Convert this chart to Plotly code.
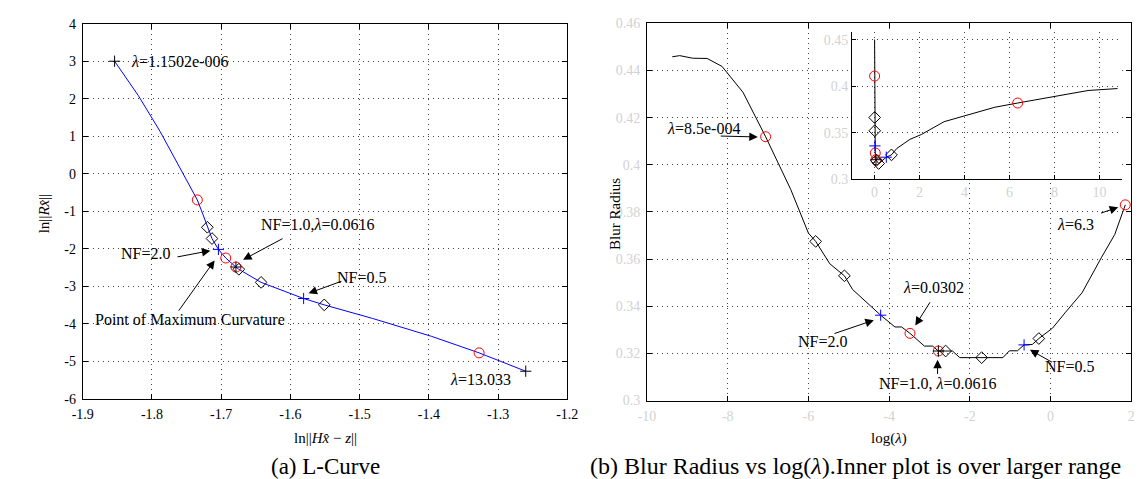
import plotly.graph_objects as go

W, H = 1147, 479

# ---------------- Data: L-curve (left) ----------------
lc_x = [-1.854, -1.8196, -1.7884, -1.7601, -1.7345, -1.7265, -1.7200, -1.7133, -1.7040, -1.6934,
        -1.6787, -1.6745, -1.6423, -1.5809, -1.5511, -1.4816, -1.3960, -1.3274, -1.2600]
lc_y = [3.00, 2.08, 1.13, 0.18, -0.70, -1.08, -1.43, -1.73, -2.02, -2.25,
        -2.49, -2.55, -2.90, -3.33, -3.50, -3.86, -4.34, -4.78, -5.27]
lc_circ_x = [-1.7345, -1.6934, -1.6787, -1.3274]
lc_circ_y = [-0.70, -2.25, -2.49, -4.78]
lc_diam_x = [-1.7200, -1.7133, -1.6745, -1.6423, -1.5511]
lc_diam_y = [-1.43, -1.73, -2.55, -2.90, -3.50]
lc_bplus_x = [-1.7040, -1.5809]
lc_bplus_y = [-2.02, -3.33]
lc_kplus_x = [-1.854, -1.6787, -1.2600]
lc_kplus_y = [3.00, -2.49, -5.27]

# ---------------- Data: Blur radius vs log(lambda) (right) ----------------
br_x = [-9.375, -9.19, -8.87, -8.51, -8.14, -7.62, -7.061, -6.44, -6.0, -5.82, -5.47, -5.108,
        -4.906, -4.21, -3.855, -3.69, -3.483, -3.126, -2.92, -2.78, -2.6, -2.43, -2.25, -1.707,
        -1.18, -1.02, -0.82, -0.656, -0.45, -0.29, 0.049, 0.373, 0.78, 1.265, 1.59, 1.853]
br_y = [0.4458, 0.4463, 0.4452, 0.4451, 0.4417, 0.4307, 0.4119, 0.3896, 0.3710, 0.3675, 0.3580, 0.3529,
        0.3471, 0.3362, 0.3312, 0.3312, 0.3285, 0.3231, 0.3231, 0.3210, 0.3210, 0.3210, 0.3182, 0.3182,
        0.3182, 0.3211, 0.3211, 0.3236, 0.3238, 0.3263, 0.3307, 0.3375, 0.3457, 0.3608, 0.3704, 0.3830]
br_circ_x = [-7.061, -3.483, -2.78, 1.853]
br_circ_y = [0.4119, 0.3285, 0.3210, 0.3830]
br_diam_x = [-5.82, -5.108, -2.6, -1.707, -0.29]
br_diam_y = [0.3675, 0.3529, 0.3210, 0.3182, 0.3263]
br_bplus_x = [-4.21, -0.656]
br_bplus_y = [0.3362, 0.3236]
br_kplus_x = [-2.78]
br_kplus_y = [0.3210]

# ---------------- Data: inset (lambda, linear) ----------------
in_x = [0.0, 0.00085, 0.003, 0.0302, 0.0616, 0.074, 0.18, 0.52, 0.75, 0.99, 1.57, 2.08,
        3.09, 4.40, 5.35, 6.36, 7.89, 9.49, 10.8]
in_y = [0.4503, 0.411, 0.3663, 0.328, 0.3208, 0.320, 0.3167, 0.3235, 0.326, 0.333, 0.3427, 0.348,
        0.3618, 0.3704, 0.3774, 0.3819, 0.3889, 0.3954, 0.3975]
in_circ_x = [0.00085, 0.0302, 0.0616, 6.36]
in_circ_y = [0.411, 0.328, 0.3208, 0.3819]
in_diam_x = [0.003, 0.006, 0.074, 0.18, 0.75]
in_diam_y = [0.3663, 0.352, 0.320, 0.3167, 0.326]
in_bplus_x = [0.015, 0.52]
in_bplus_y = [0.3357, 0.3235]
in_kplus_x = [0.0616]
in_kplus_y = [0.3208]

lc_xticks = [-1.9, -1.8, -1.7, -1.6, -1.5, -1.4, -1.3, -1.2]
lc_yticks = [-6, -5, -4, -3, -2, -1, 0, 1, 2, 3, 4]
br_xticks = [-10, -8, -6, -4, -2, 0, 2]
br_yticks = [0.30, 0.32, 0.34, 0.36, 0.38, 0.40, 0.42, 0.44, 0.46]
br_yticklabels = ["0.3", "0.32", "0.34", "0.36", "0.38", "0.4", "0.42", "0.44", "0.46"]
in_xticks = [0, 2, 4, 6, 8, 10]
in_yticks = [0.30, 0.35, 0.40, 0.45]
in_yticklabels = ["0.3", "0.35", "0.4", "0.45"]

FONT = "Liberation Serif, DejaVu Serif, serif"
GRAY = "#d2d2d2"

fig = go.Figure()

def markers(x, y, xa, ya, symbol, color, size, lw=1):
    fig.add_trace(go.Scatter(x=x, y=y, xaxis=xa, yaxis=ya, mode="markers",
                             marker=dict(symbol=symbol, size=size, color=color,
                                         line=dict(color=color, width=lw)),
                             showlegend=False, hoverinfo="skip"))

# left
fig.add_trace(go.Scatter(x=lc_x, y=lc_y, xaxis="x", yaxis="y", mode="lines",
                         line=dict(color="#0000ff", width=1), showlegend=False))
markers(lc_circ_x, lc_circ_y, "x", "y", "circle-open", "#ff0000", 10)
markers(lc_diam_x, lc_diam_y, "x", "y", "diamond-open", "black", 9)
markers(lc_bplus_x, lc_bplus_y, "x", "y", "cross-thin-open", "#0000ff", 8)
markers(lc_kplus_x, lc_kplus_y, "x", "y", "cross-thin-open", "black", 8)

# right
fig.add_trace(go.Scatter(x=br_x, y=br_y, xaxis="x2", yaxis="y2", mode="lines",
                         line=dict(color="black", width=1), showlegend=False))
markers(br_circ_x, br_circ_y, "x2", "y2", "circle-open", "#ff0000", 10)
markers(br_diam_x, br_diam_y, "x2", "y2", "diamond-open", "black", 9)
markers(br_bplus_x, br_bplus_y, "x2", "y2", "cross-thin-open", "#0000ff", 8)
markers(br_kplus_x, br_kplus_y, "x2", "y2", "cross-thin-open", "black", 8)

# inset
fig.add_trace(go.Scatter(x=in_x, y=in_y, xaxis="x3", yaxis="y3", mode="lines",
                         line=dict(color="black", width=1), showlegend=False))
markers(in_circ_x, in_circ_y, "x3", "y3", "circle-open", "#ff0000", 10)
markers(in_diam_x, in_diam_y, "x3", "y3", "diamond-open", "black", 9)
markers(in_bplus_x, in_bplus_y, "x3", "y3", "cross-thin-open", "#0000ff", 8)
markers(in_kplus_x, in_kplus_y, "x3", "y3", "cross-thin-open", "black", 8)

grid = dict(showgrid=True, gridcolor="#444444", gridwidth=1, griddash="1px,4px", zeroline=False)
frame = dict(showline=True, linecolor="black", linewidth=1, mirror="ticks",
             ticks="inside", ticklen=5, tickcolor="black")
TF = 14

fig.update_layout(
    width=W, height=H, margin=dict(l=0, r=0, t=0, b=0),
    paper_bgcolor="white", plot_bgcolor="white", showlegend=False,
    font=dict(family=FONT, size=12, color="black"),
    xaxis=dict(domain=[65/W, 559/W], range=[-1.9, -1.2], tickvals=lc_xticks,
               ticktext=["%g" % v for v in lc_xticks], anchor="y", ticklabelstandoff=3,
               tickfont=dict(family=FONT, size=TF), **grid, **frame),
    yaxis=dict(domain=[1-396/H, 1-9/H], range=[-6, 4], tickvals=lc_yticks,
               ticktext=["%g" % v for v in lc_yticks], anchor="x", ticklabelstandoff=3,
               tickfont=dict(family=FONT, size=TF), **grid, **frame),
    xaxis2=dict(domain=[640.3/W, 1134/W], range=[-10, 2], tickvals=br_xticks,
                ticktext=["%g" % v for v in br_xticks], anchor="y2", ticklabelstandoff=3,
                tickfont=dict(family=FONT, size=TF, color=GRAY), **grid, **frame),
    yaxis2=dict(domain=[1-398/H, 1-8.6/H], range=[0.30, 0.46], tickvals=br_yticks,
                ticktext=br_yticklabels, anchor="x2", ticklabelstandoff=3,
                tickfont=dict(family=FONT, size=TF, color=GRAY), **grid, **frame),
    xaxis3=dict(domain=[849.4/W, 1124.6/W], range=[-1, 11], tickvals=in_xticks,
                ticktext=["%g" % v for v in in_xticks], anchor="y3",
                tickfont=dict(family=FONT, size=TF, color=GRAY), showline=True, linecolor="black",
                linewidth=1, mirror=False, ticks="inside", ticklen=4, tickcolor="black", **grid),
    yaxis3=dict(domain=[1-169.3/H, 1-18/H], range=[0.30, 0.458], tickvals=in_yticks,
                ticktext=in_yticklabels, anchor="x3",
                tickfont=dict(family=FONT, size=TF, color=GRAY), showline=True, linecolor="black",
                linewidth=1, mirror=False, ticks="inside", ticklen=4, tickcolor="black", **grid),
)

ann = []
def text(x, y, s, xr, yr, size=16, xanchor="center"):
    ann.append(dict(x=x, y=y, xref=xr, yref=yr, text=s, showarrow=False,
                    font=dict(family=FONT, size=size, color="black"),
                    xanchor=xanchor, yanchor="middle"))

def arrow(hx, hy, tx, ty, xr, yr):
    ann.append(dict(x=hx, y=hy, ax=tx, ay=ty, xref=xr, yref=yr, axref=xr, ayref=yr,
                    text="", showarrow=True, arrowhead=2, arrowsize=1.7, arrowwidth=1,
                    arrowcolor="black", standoff=0, startstandoff=0))

L = "<i>λ</i>"
# left annotations
text(-1.8333, 3.0, L + "=1.1502e-006", "x", "y", xanchor="left")
text(-1.809, -2.142, "NF=2.0", "x", "y")
arrow(-1.7156, -2.054, -1.7652, -2.227, "x", "y")
text(-1.7454, -3.881, "Point of Maximum Curvature", "x", "y")
arrow(-1.7095, -2.313, -1.7628, -3.693, "x", "y")
text(-1.5613, -1.367, "NF=1.0," + L + "=0.0616", "x", "y")
arrow(-1.6684, -2.297, -1.6092, -1.711, "x", "y")
text(-1.4976, -2.762, "NF=0.5", "x", "y")
arrow(-1.5738, -3.191, -1.5241, -2.855, "x", "y")
text(-1.326, -5.48, L + "=13.033", "x", "y")

# right annotations
text(-8.591, 0.4154, L + "=8.5e-004", "x2", "y2")
arrow(-7.255, 0.4118, -8.21, 0.4122, "x2", "y2")
text(-5.655, 0.3252, "NF=2.0", "x2", "y2")
arrow(-4.379, 0.3341, -5.391, 0.3282, "x2", "y2")
text(-2.89, 0.3481, L + "=0.0302", "x2", "y2")
arrow(-3.352, 0.3318, -2.964, 0.3423, "x2", "y2")
text(-2.79, 0.3074, "NF=1.0, " + L + "=0.0616", "x2", "y2")
arrow(-2.8, 0.3173, -2.8, 0.3106, "x2", "y2")
text(0.478, 0.3143, "NF=0.5", "x2", "y2")
arrow(-0.51, 0.3215, 0.074, 0.3159, "x2", "y2")
text(0.619, 0.3745, L + "=6.3", "x2", "y2")
arrow(1.676, 0.382, 1.214, 0.3793, "x2", "y2")

# axis titles and captions
text(312/W, 1-437/H, "ln||<i>Hx̂</i> − <i>z</i>||", "paper", "paper", size=15)
text(887/W, 1-437/H, "log(" + L + ")", "paper", "paper", size=15)
ann.append(dict(x=15/W, y=1-205/H, xref="paper", yref="paper", text="ln||<i>Rx̂</i>||",
                showarrow=False, textangle=-90, font=dict(family=FONT, size=15, color="black")))
ann.append(dict(x=607/W, y=1-205/H, xref="paper", yref="paper", text="Blur Radius",
                showarrow=False, textangle=-90, font=dict(family=FONT, size=15, color="black")))
text(312/W, 1-466/H, "(a) L-Curve", "paper", "paper", size=23)
text(853/W, 1-466/H, "(b) Blur Radius vs log(" + L + ").Inner plot is over larger range",
     "paper", "paper", size=24)

fig.update_layout(annotations=ann)
fig.write_html("out.html")
